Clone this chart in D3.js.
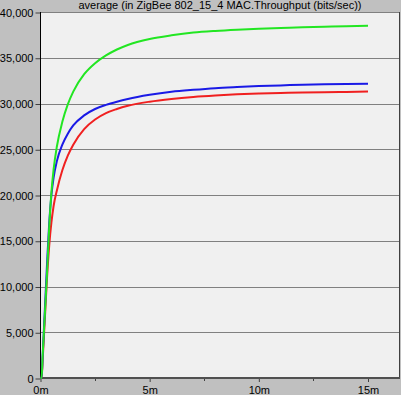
<!DOCTYPE html>
<html lang="en">
<head>
  <meta charset="UTF-8">
  <title>ZigBee MAC Throughput</title>
  <style>
    body { margin: 0; background: #c0c0c0; }
    svg { display: block; font-family: "Liberation Sans", Arial, sans-serif; }
  </style>
</head>
<body>
  <div id="chart"></div>
  <script src="https://d3js.org/d3.v7.min.js"></script>
  <script>
    // time in minutes
    const greenT = [0, 0.05, 0.1, 0.2, 0.3, 0.4, 0.5, 0.6, 0.75, 1, 1.25, 1.5, 2, 2.5, 3, 3.5, 4, 5, 6, 7, 8, 9, 10, 11, 12, 13, 14, 15]
    const greenV = [0, 0, 2500, 7000, 11500, 16500, 20300, 22800, 25300, 28000, 29900, 31300, 33200, 34400, 35250, 35900, 36400, 37050, 37450, 37750, 37930, 38060, 38160, 38250, 38330, 38390, 38450, 38500]

    const blueT = [0, 0.05, 0.1, 0.2, 0.3, 0.4, 0.5, 0.6, 0.75, 1, 1.25, 1.5, 2, 2.5, 3, 3.5, 4, 5, 6, 7, 8, 9, 10, 11, 12, 13, 14, 15]
    const blueV = [0, 0, 2500, 7500, 12500, 17000, 20000, 21900, 23700, 25500, 26700, 27600, 28700, 29400, 29850, 30200, 30500, 30950, 31280, 31500, 31680, 31800, 31900, 31980, 32050, 32100, 32140, 32170]

    const redT = [0, 0.05, 0.1, 0.2, 0.3, 0.4, 0.5, 0.6, 0.75, 1, 1.25, 1.5, 2, 2.5, 3, 3.5, 4, 5, 6, 7, 8, 9, 10, 11, 12, 13, 14, 15]
    const redV = [0, 0, 2000, 6500, 11000, 14500, 17000, 18800, 20500, 22700, 24300, 25500, 27200, 28250, 28950, 29400, 29750, 30200, 30500, 30720, 30880, 31000, 31080, 31150, 31200, 31240, 31270, 31300]

    const xTicks = [0, 5, 10, 15]
    const xMinor = [2.5, 7.5, 12.5]
    const yTicks = [0, 5000, 10000, 15000, 20000, 25000, 30000, 35000, 40000]
    const title = "average (in ZigBee 802_15_4 MAC.Throughput (bits/sec))"

    const W = 401, H = 395
    const plotL = 40.5, plotT = 12, plotR = 400, plotB = 378

    const svg = d3.select("#chart").append("svg")
      .attr("width", W)
      .attr("height", H)

    svg.append("rect")
      .attr("width", W).attr("height", H)
      .attr("fill", "#c0c0c0")

    // plot area
    svg.append("rect")
      .attr("x", plotL).attr("y", plotT)
      .attr("width", plotR - plotL).attr("height", plotB - plotT)
      .attr("fill", "#f0f0f0")

    const x = d3.scaleLinear().domain([0, 15]).range([plotL, 368])
    const y = d3.scaleLinear().domain([0, 40000]).range([plotB, plotT])

    // grid lines
    svg.append("g")
      .selectAll("line")
      .data(yTicks.filter(d => d > 0))
      .join("line")
      .attr("x1", plotL).attr("x2", plotR)
      .attr("y1", d => Math.round(y(d)) + 0.5)
      .attr("y2", d => Math.round(y(d)) + 0.5)
      .attr("stroke", "#808080")

    // right border
    svg.append("line")
      .attr("x1", plotR - 0.5).attr("x2", plotR - 0.5)
      .attr("y1", plotT).attr("y2", plotB)
      .attr("stroke", "#404040")

    // y axis
    const yAxis = d3.axisLeft(y)
      .tickValues(yTicks)
      .tickFormat(d3.format(","))
      .tickSize(5)
      .tickPadding(2)

    svg.append("g")
      .attr("transform", `translate(${plotL},0.5)`)
      .call(yAxis)
      .call(g => g.select(".domain").remove())
      .call(g => g.selectAll("line").attr("stroke", "#404040"))
      .call(g => g.selectAll("text")
        .attr("font-size", "11px")
        .attr("font-family", "Liberation Sans, Arial, sans-serif")
        .attr("fill", "#000"))

    // x axis
    const xAxis = d3.axisBottom(x)
      .tickValues(xTicks)
      .tickFormat(d => d + "m")
      .tickSize(4)
      .tickPadding(4)

    svg.append("g")
      .attr("transform", `translate(0,${plotB})`)
      .call(xAxis)
      .call(g => g.select(".domain").remove())
      .call(g => g.selectAll("line").attr("stroke", "#404040"))
      .call(g => g.selectAll("text")
        .attr("font-size", "11px")
        .attr("font-family", "Liberation Sans, Arial, sans-serif")
        .attr("fill", "#000"))

    svg.append("g")
      .selectAll("line")
      .data(xMinor)
      .join("line")
      .attr("x1", d => Math.round(x(d)) + 0.5)
      .attr("x2", d => Math.round(x(d)) + 0.5)
      .attr("y1", plotB)
      .attr("y2", plotB + 3)
      .attr("stroke", "#404040")

    // axis lines
    svg.append("line")
      .attr("x1", plotL).attr("x2", plotR)
      .attr("y1", plotB).attr("y2", plotB)
      .attr("stroke", "#505050")
      .attr("stroke-width", 2)

    svg.append("line")
      .attr("x1", plotL).attr("x2", plotL)
      .attr("y1", plotT).attr("y2", plotB)
      .attr("stroke", "#000")

    // curves
    const line = d3.line()
      .x(d => x(d[0]))
      .y(d => y(d[1]))
      .curve(d3.curveMonotoneX)

    const series = [
      { t: redT, v: redV, color: "#f02020" },
      { t: blueT, v: blueV, color: "#1a1ae6" },
      { t: greenT, v: greenV, color: "#22e622" }
    ]

    svg.append("g")
      .selectAll("path")
      .data(series)
      .join("path")
      .attr("d", s => line(s.t.map((t, i) => [t, s.v[i]])))
      .attr("fill", "none")
      .attr("stroke", s => s.color)
      .attr("stroke-width", 2)

    // title
    svg.append("text")
      .attr("x", 220)
      .attr("y", 9)
      .attr("text-anchor", "middle")
      .attr("font-size", "11px")
      .attr("fill", "#000")
      .text(title)
  </script>
</body>
</html>
